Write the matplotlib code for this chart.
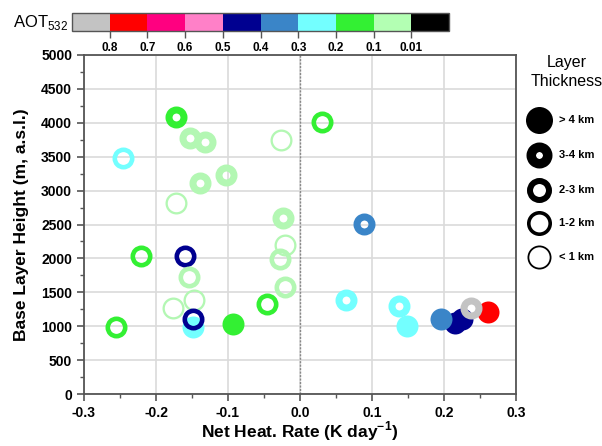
import matplotlib
matplotlib.use("Agg")
import matplotlib.pyplot as plt
from matplotlib.colors import ListedColormap, BoundaryNorm
from matplotlib.ticker import MultipleLocator
import numpy as np

plt.rcParams['font.family'] = ['Liberation Sans', 'DejaVu Sans']
plt.rcParams['mathtext.fontset'] = 'custom'
plt.rcParams['mathtext.rm'] = 'Liberation Sans'
plt.rcParams['mathtext.bf'] = 'Liberation Sans:bold'

# ---- data ----
heat_rate = [-0.172, 0.031, -0.153, -0.132, -0.026, -0.246, -0.103, -0.139, -0.172, -0.024,
             -0.021, -0.028, -0.221, -0.160, -0.154, -0.021, -0.147, -0.176, -0.046,
             -0.149, -0.149, -0.093, -0.256, 0.089, 0.064, 0.138, 0.148,
             0.215, 0.225, 0.196, 0.261, 0.237]
base_height = [4080, 4010, 3776, 3717, 3746, 3481, 3230, 3112, 2817, 2596,
               2198, 1991, 2035, 2035, 1720, 1578, 1386, 1268, 1327,
               995, 1106, 1032, 988, 2507, 1386, 1298, 1003,
               1050, 1110, 1106, 1209, 1268]
aot_class = ['green', 'green', 'lgreen', 'lgreen', 'lgreen', 'cyan', 'lgreen', 'lgreen', 'lgreen', 'lgreen',
             'lgreen', 'lgreen', 'green', 'navy', 'lgreen', 'lgreen', 'lgreen', 'lgreen', 'green',
             'cyan', 'navy', 'green', 'green', 'steel', 'cyan', 'cyan', 'cyan',
             'navy', 'navy', 'steel', 'red', 'gray']
thickness = ['3-4', '2-3', '3-4', '3-4', '1-2', '2-3', '3-4', '3-4', '1-2', '3-4',
             '1-2', '2-3', '2-3', '2-3', '2-3', '2-3', '1-2', '1-2', '2-3',
             '>4', '2-3', '>4', '2-3', '3-4', '3-4', '3-4', '>4',
             '>4', '>4', '>4', '>4', '3-4']

aot_colors = ['#C3C3C3', '#FF0000', '#FF0080', '#FF80C8', '#000090', '#3A85C8',
              '#73FFFF', '#33F033', '#B3FFB3', '#000000']
aot_ticklabels = ['0.8', '0.7', '0.6', '0.5', '0.4', '0.3', '0.2', '0.1', '0.01']
class_color = {'gray': '#C3C3C3', 'red': '#FF0000', 'navy': '#000090', 'steel': '#3A85C8',
               'cyan': '#73FFFF', 'green': '#33F033', 'lgreen': '#B3F7B3'}

thick_labels = ['> 4 km', '3-4 km', '2-3 km', '1-2 km', '< 1 km']
thick_keys = ['>4', '3-4', '2-3', '1-2', '<1']

# ring thickness in px for data markers (outer diameter ~22 px)
ring_px = {'>4': None, '3-4': 7.0, '2-3': 4.6, '1-2': 2.3, '<1': 1.3}

W, H = 602, 446
fig = plt.figure(figsize=(W / 100, H / 100), dpi=100)
PT = 0.72  # points per pixel

def draw_marker(ax, x, y, color, outer_px, ring, **kw):
    if ring is None:
        ax.plot([x], [y], marker='o', ls='none', markersize=outer_px * PT,
                mfc=color, mec=color, mew=0, **kw)
    else:
        ax.plot([x], [y], marker='o', ls='none', markersize=(outer_px - ring) * PT,
                mfc='none', mec=color, mew=ring * PT, **kw)

# ---- main axes ----
ax = fig.add_axes([84 / W, (H - 394) / H, 432 / W, 339 / H])
ax.set_xlim(-0.3, 0.3)
ax.set_ylim(0, 5000)
ax.xaxis.set_minor_locator(MultipleLocator(0.05))
ax.yaxis.set_minor_locator(MultipleLocator(250))
ax.grid(True, which='major', color='#DADADA', lw=1.2, zorder=0)
ax.set_axisbelow(True)
ax.axvline(0, color='#888888', lw=1.0, ls=(0, (1.5, 1.0)), zorder=1)
for s in ax.spines.values():
    s.set_color('#555555')
    s.set_linewidth(1.3)
ax.tick_params(which='major', direction='out', length=5, width=1.2, color='#555555',
               labelsize=10)
ax.tick_params(which='minor', direction='out', length=3, width=1.0, color='#555555')
xt = np.round(np.arange(-0.3, 0.31, 0.1), 1)
ax.set_xticks(xt)
ax.set_xticklabels(['%.1f' % (v + 0.0) for v in xt], fontweight='bold')
yt = np.arange(0, 5001, 500)
ax.set_yticks(yt)
ax.set_yticklabels([str(int(v)) for v in yt], fontweight='bold')

for i, (x, y, c, k) in enumerate(zip(heat_rate, base_height, aot_class, thickness)):
    draw_marker(ax, x, y, class_color[c], 22, ring_px[k], zorder=3 + i * 0.01)

fig.text(300 / W, 3 / H, 'Net Heat. Rate (K day$^{\\mathbf{-1}}$)', ha='center', va='bottom',
         fontsize=12.5, fontweight='bold')
ax.set_ylabel('Base Layer Height (m, a.s.l.)', fontsize=12.5, fontweight='bold', labelpad=9)

# ---- colorbar ----
cax = fig.add_axes([72 / W, (H - 31) / H, 377 / W, 18 / H])
cmap = ListedColormap(aot_colors)
bounds = np.arange(len(aot_colors) + 1)
norm = BoundaryNorm(bounds, cmap.N)
cb = fig.colorbar(plt.cm.ScalarMappable(norm=norm, cmap=cmap), cax=cax, orientation='horizontal')
cb.set_ticks(np.arange(1, len(aot_colors)))
cb.set_ticklabels(aot_ticklabels)
cax.tick_params(length=5, width=1.0, color='#555555', labelsize=8.5, pad=3)
for lbl in cax.get_xticklabels():
    lbl.set_fontweight('bold')
cb.outline.set_edgecolor('#555555')
cb.outline.set_linewidth(1.0)
cax.xaxis.set_tick_params(which='minor', length=0)
fig.text(68 / W, 1 - 22 / H, 'AOT$_{532}$', ha='right', va='center', fontsize=12)

# ---- thickness legend ----
fig.text(567 / W, 1 - 72 / H, 'Layer\nThickness', ha='center', va='center', fontsize=11.5,
         linespacing=1.3)
lax = fig.add_axes([0, 0, 1, 1], facecolor='none')
lax.set_xlim(0, W)
lax.set_ylim(H, 0)
lax.axis('off')
leg_y = [120, 155, 190, 223, 257]
leg_ring = {'>4': None, '3-4': 9.5, '2-3': 6.0, '1-2': 3.6, '<1': 1.8}
leg_outer = {'>4': 27, '3-4': 26, '2-3': 25, '1-2': 25, '<1': 24}
for yy, key, lab in zip(leg_y, thick_keys, thick_labels):
    draw_marker(lax, 539, yy, 'black', leg_outer[key], leg_ring[key])
    lax.text(559, yy, lab, ha='left', va='center', fontsize=8, fontweight='bold')

fig.savefig('out.png', dpi=100)
